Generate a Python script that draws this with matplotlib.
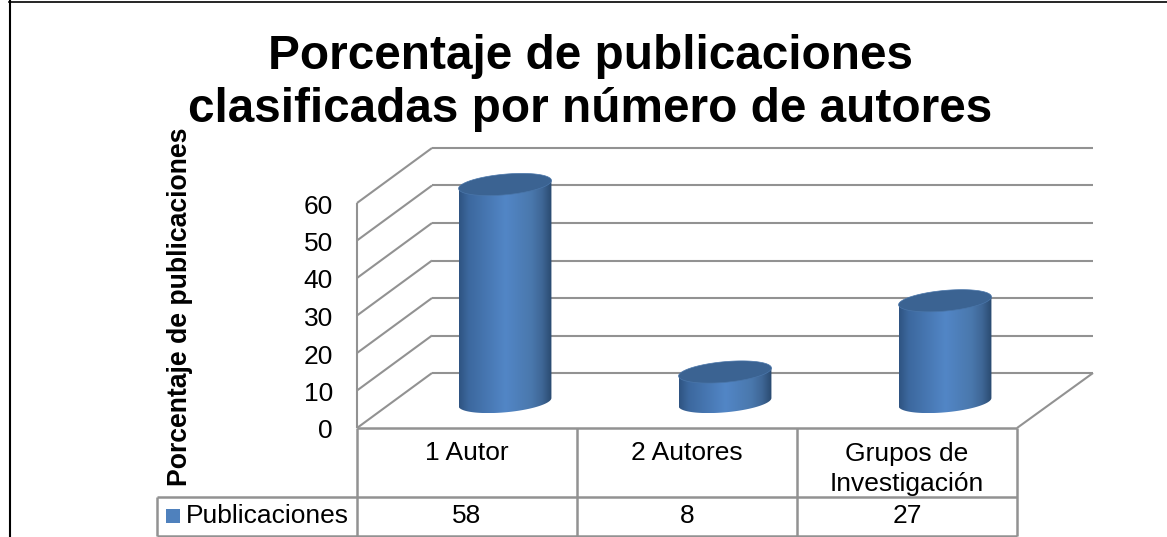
import numpy as np
import matplotlib
matplotlib.use("Agg")
import matplotlib.pyplot as plt
from matplotlib.colors import LinearSegmentedColormap
from matplotlib.lines import Line2D
from matplotlib.patches import Polygon, Rectangle
from matplotlib.transforms import ScaledTranslation

plt.rcParams["font.family"] = ["Liberation Sans", "DejaVu Sans"]

categories = ["1 Autor", "2 Autores", "Grupos de\nInvestigación"]
values = [58, 8, 27]
series_name = "Publicaciones"
y_ticks = [0, 10, 20, 30, 40, 50, 60]
title = "Porcentaje de publicaciones\nclasificadas por número de autores"
y_label = "Porcentaje de publicaciones"

GRID = "#929292"
W, H = 1167, 537

fig = plt.figure(figsize=(W / 100, H / 100), dpi=100)
ax = fig.add_axes([357 / W, (H - 428) / H, 660 / W, 225 / H])
ax.patch.set_visible(False)
for sp in ax.spines.values():
    sp.set_visible(False)

# pixels per data unit on the front plane
sx = 220.0
sy = 3.75
depth_x = 75 / sx
depth_y = 55 / sy


def py(p):
    # picture row to value on the y scale
    return (428 - p) / sy


def px(p):
    # picture column to category scale
    return (p - 357) / sx


def line(xs, ys, lw=1.5, color=GRID, z=1):
    ax.plot(xs, ys, color=color, lw=lw, zorder=z, clip_on=False, solid_capstyle="butt")


# walls and floor
n = len(categories)
for v in y_ticks:
    line([0, depth_x], [v, v + depth_y])
    line([depth_x, n + depth_x + 1 / sx], [v + depth_y, v + depth_y])
line([0, 0], [0, y_ticks[-1]])
line([n, n + depth_x + 1 / sx], [0, depth_y])

# table under the plot
table_mid = py(497)
table_bot = py(535.5)
table_left = px(157)
line([0, n], [0, 0], lw=1.8, z=2)
line([table_left, n], [table_mid, table_mid], lw=1.8, z=2)
line([table_left, n], [table_bot, table_bot], lw=1.8, z=2)
line([table_left, table_left], [table_mid, table_bot], lw=1.8, z=2)
for i in range(n + 1):
    line([i, i], [0, table_bot], lw=1.8, z=2)

side_cmap = LinearSegmentedColormap.from_list(
    "side",
    [(0, "#2f5482"), (0.1, "#3c689e"), (0.5, "#5286c6"), (0.78, "#4a78ad"), (0.9, "#3e6695"), (1, "#2a4a70")],
)

# tilted ellipse of the cylinder ends, in pixels
a, b, tilt = 46.6, 10.3, np.radians(5.2)
s = np.linspace(0, 2 * np.pi, 361)[:-1]
ex = a * np.cos(s) * np.cos(tilt) + b * np.sin(s) * np.sin(tilt)
ey = a * np.cos(s) * np.sin(tilt) - b * np.sin(s) * np.cos(tilt)

# lower arc of the ellipse, from its left end to its right end
i_r = np.argmax(ex)
i_l = np.argmin(ex)
arc = []
for k in range(len(s)):
    j = (i_l - k) % len(s)
    arc.append(j)
    if j == i_r:
        break

for i, v in enumerate(values):
    cx = i + 0.5 + depth_x * 0.5 + 0.5 / sx
    base = depth_y * 0.5 - 1.5 / sy
    xs = cx + ex / sx
    bottom = base + ey / sy
    top = base + v + ey / sy

    body = list(zip(xs[arc], bottom[arc])) + [(xs[i_r], top[i_r]), (xs[i_l], top[i_l])]
    patch = Polygon(body, closed=True, facecolor="none", edgecolor="none", clip_on=False)
    ax.add_patch(patch)
    im = ax.imshow(
        np.linspace(0, 1, 200).reshape(1, -1),
        cmap=side_cmap,
        extent=(xs.min(), xs.max(), bottom.min(), top.max()),
        aspect="auto",
        interpolation="bilinear",
        zorder=3,
    )
    im.set_clip_path(patch)
    im.set_clip_box(fig.bbox)
    ax.add_patch(Polygon(np.column_stack([xs, top]), closed=True, facecolor="#3b6392", edgecolor="#4a76aa", lw=0.5, zorder=4, clip_on=False))

    ax.text(i + 0.5, py(516), str(v), ha="center", va="center", fontsize=19, color="black")
    for k, t in enumerate(categories[i].split("\n")):
        ax.text(i + 0.5, py(453.5 + 31 * k), t, ha="center", va="center", fontsize=19, color="black")

# legend key and series name in the table
ax.add_patch(Rectangle((px(166), py(523)), 14 / sx, 14 / sy, facecolor="#4f81bd", edgecolor="none", clip_on=False, zorder=3))
ax.text(px(186), py(516), series_name, ha="left", va="center", fontsize=19, color="black")

ax.set_xlim(0, n)
ax.set_ylim(0, 60)
ax.set_xticks([])
ax.set_yticks(y_ticks)
ax.tick_params(axis="y", length=0, pad=17.3, labelsize=19, labelcolor="black")
for lab in ax.get_yticklabels():
    lab.set_transform(lab.get_transform() + ScaledTranslation(0, -0.01, fig.dpi_scale_trans))

fig.text(590.5 / W, 1 - 69 / H, title.split("\n")[0], ha="center", va="baseline", fontsize=34.4, fontweight="bold")
fig.text(590.5 / W, 1 - 122 / H, title.split("\n")[1], ha="center", va="baseline", fontsize=34.4, fontweight="bold")
fig.text(180 / W, 1 - 307 / H, y_label, rotation=90, ha="center", va="center", fontsize=19.15, fontweight="bold")

# outer frame
fig.add_artist(Line2D([9.5 / W, 9.5 / W], [0, 1 - 1 / H], color="black", lw=1.5))
fig.add_artist(Line2D([9 / W, 1], [1 - 1.5 / H, 1 - 1.5 / H], color="black", lw=1.2))

fig.savefig("out.png", dpi=100)
